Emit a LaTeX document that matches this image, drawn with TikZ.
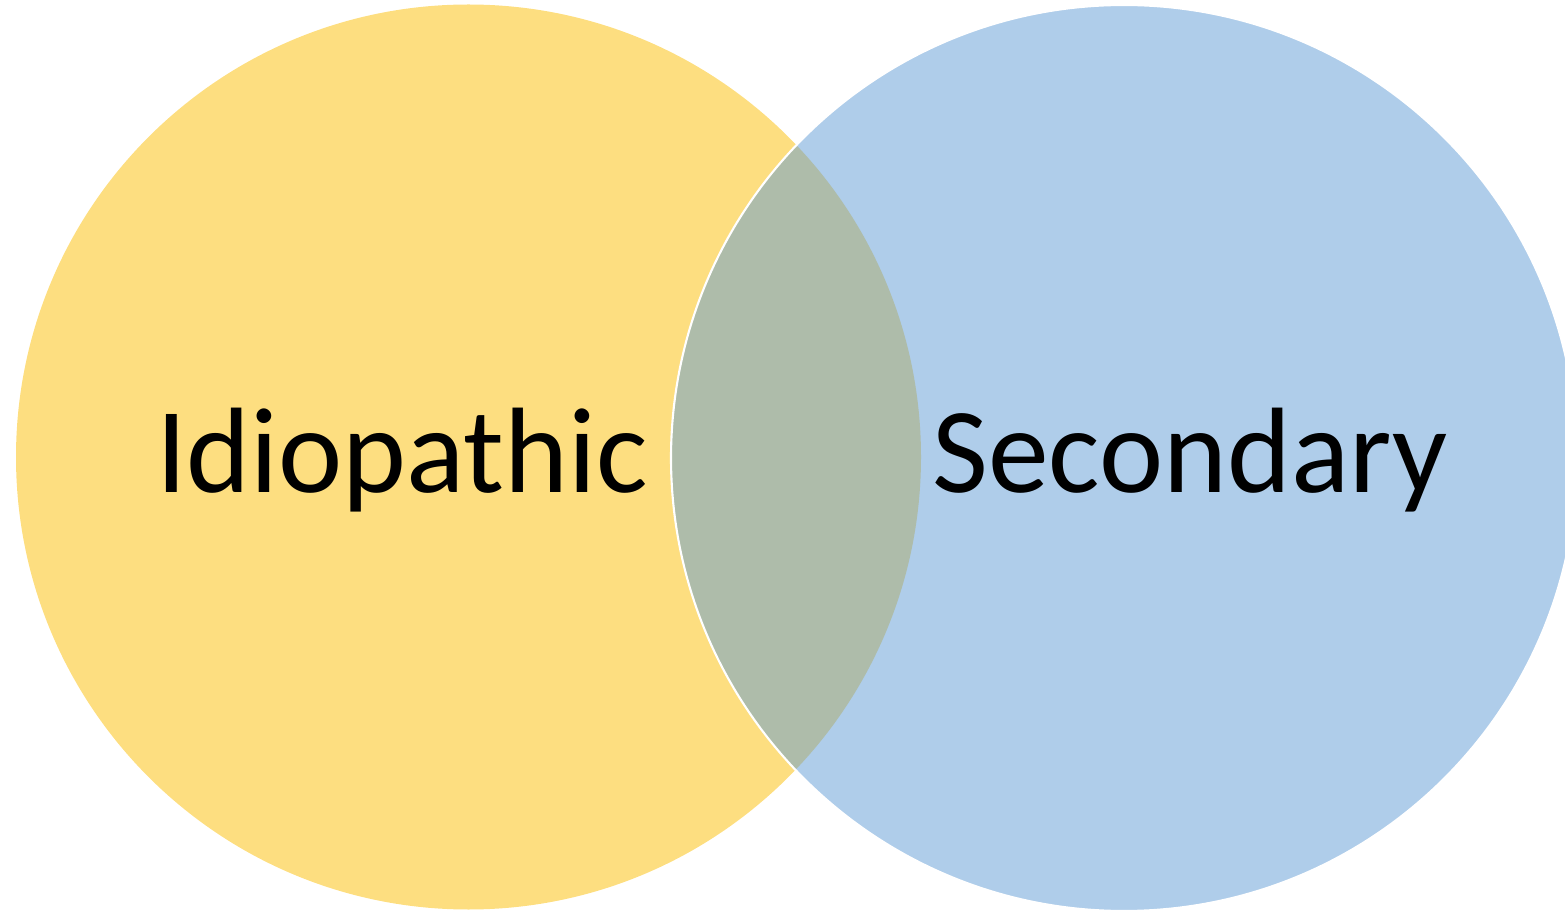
\documentclass[tikz,border=0pt]{standalone}
\usepackage{fontspec}
\setmainfont{Carlito}
\usepackage{tikz}
\usetikzlibrary{positioning}
\definecolor{idioYellow}{RGB}{253,222,128}
\definecolor{secBlue}{RGB}{175,205,234}
\definecolor{overlapGreen}{RGB}{174,188,170}

\begin{document}
\begin{tikzpicture}
		[font=\fontsize{34.6}{41}\selectfont,
		% STYLES
		% The set style is used for the filled circles
		set/.style={draw=none},
		% label of each set
		setLabel/.style={inner sep=0pt, anchor=base, text=black}]

		\useasboundingbox (0,0) rectangle (15.65,-9.10);

		% Draw sets
		\fill [set, idioYellow] (4.685,-4.57) circle (4.525);
		\fill [set, secBlue] (11.24,-4.58) circle (4.53);
		\begin{scope}
			\clip (4.685,-4.57) circle (4.525);
			\fill [overlapGreen] (11.24,-4.58) circle (4.53);
		\end{scope}
		\draw [white, line width=0.6pt] (11.24,-4.58) circle (4.53);

		%%%%%%%%%%%%%%%
		% Labels
		\node [setLabel] (idio) at (4.02,-4.93) {Idiopathic};
		\node [setLabel] (sec) at (11.90,-4.93) {Secondary};
\end{tikzpicture}
\end{document}
